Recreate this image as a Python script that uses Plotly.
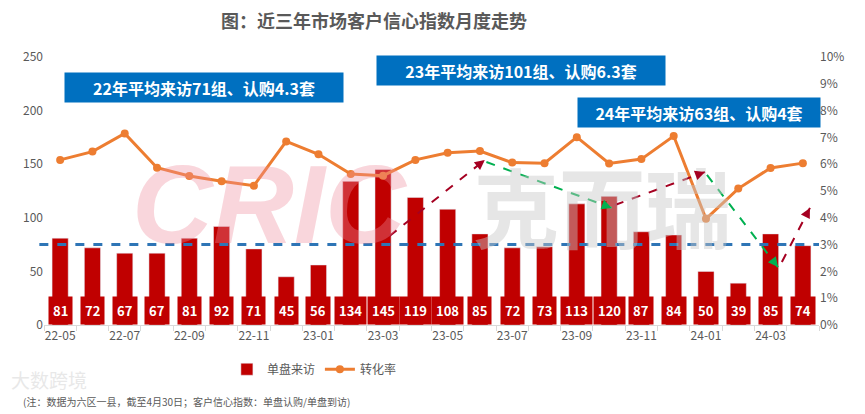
import plotly.graph_objects as go

# 月度数据
months = ["22-05", "22-06", "22-07", "22-08", "22-09", "22-10", "22-11", "22-12",
          "23-01", "23-02", "23-03", "23-04", "23-05", "23-06", "23-07", "23-08",
          "23-09", "23-10", "23-11", "23-12", "24-01", "24-02", "24-03", "24-04"]
visits = [81, 72, 67, 67, 81, 92, 71, 45, 56, 134, 145, 119,
          108, 85, 72, 73, 113, 120, 87, 84, 50, 39, 85, 74]
rate = [6.16, 6.47, 7.15, 5.87, 5.56, 5.36, 5.20, 6.85, 6.37, 5.63, 5.57, 6.16,
        6.43, 6.49, 6.06, 6.04, 7.01, 6.03, 6.19, 7.05, 3.96, 5.09, 5.86, 6.04]
tick_text = [m if i % 2 == 0 else "" for i, m in enumerate(months)]

ref_rate = 3  # 参考线（%）

# 趋势箭头: (起点x, 起点y%, 终点x, 终点y%, 颜色)
arrows = [
    (10.2, 3.32, 13.15, 6.16, "#a50021"),
    (13.2, 6.08, 17.08, 4.37, "#00b050"),
    (17.18, 4.48, 19.97, 5.71, "#a50021"),
    (20.03, 5.60, 22.23, 2.16, "#00b050"),
    (22.35, 2.35, 23.22, 4.37, "#a50021"),
]

notes = [
    ("22年平均来访71组、认购4.3套", 0.206, 0.886, 270),
    ("23年平均来访101组、认购6.3套", 0.615, 0.948, 280),
    ("24年平均来访63组、认购4套", 0.845, 0.792, 234),
]

FONT = "Noto Sans CJK SC"
GREY = "#595959"

fig = go.Figure()
fig.add_trace(go.Bar(x=months, y=visits, name="单盘来访", marker_color="#c00000",
                     width=0.5))
fig.add_trace(go.Scatter(x=months, y=rate, name="转化率", yaxis="y2",
                         mode="lines+markers",
                         line=dict(color="#ed7d31", width=3),
                         marker=dict(size=8, color="#ed7d31")))

annotations = []
# 水印
annotations.append(dict(x=0.292, y=0.448, xref="paper", yref="paper", xanchor="center",
                        yanchor="middle", text="<b><i>CRIC</i></b>", showarrow=False,
                        font=dict(family="Liberation Sans", size=112, color="#f08c9c"),
                        opacity=0.35))
annotations.append(dict(x=0.72, y=0.448, xref="paper", yref="paper", xanchor="center",
                        yanchor="middle", text="<b>克而瑞</b>", showarrow=False,
                        font=dict(family=FONT, size=86, color="#c8c8c8"), opacity=0.45))

# 柱底数值标签
for m, v in zip(months, visits):
    annotations.append(dict(x=m, y=0, yanchor="bottom", text="<b>%d</b>" % v, showarrow=False,
                            font=dict(family=FONT, size=13, color="white"),
                            bgcolor="#c00000", borderpad=4, height=19))

# 箭头
shapes = []
for x0, y0, x1, y1, c in arrows:
    shapes.append(dict(type="line", xref="x", yref="y2", x0=x0, y0=y0, x1=x1, y1=y1,
                       line=dict(color=c, width=2, dash="dash")))
    annotations.append(dict(x=x1, y=y1, xref="x", yref="y2", axref="x", ayref="y2",
                            ax=x1 - (x1 - x0) * 0.08, ay=y1 - (y1 - y0) * 0.08,
                            text="", showarrow=True, arrowhead=2, arrowsize=1,
                            arrowwidth=2, arrowcolor=c))

shapes.append(dict(type="line", xref="paper", yref="y2", x0=-0.006, x1=1, y0=ref_rate, y1=ref_rate,
                   line=dict(color="#2e75b6", width=3, dash="dash")))

# 说明框
for t, x, y, w in notes:
    annotations.append(dict(x=x, y=y, xref="paper", yref="paper", xanchor="center",
                            yanchor="middle", text="<b>%s</b>" % t, showarrow=False,
                            font=dict(family=FONT, size=16, color="white"),
                            bgcolor="#0070c0", width=w, height=21, borderpad=4))

annotations.append(dict(x=-0.03, y=-0.285, xref="paper", yref="paper", xanchor="left",
                        yanchor="middle",
                        text="(注：数据为六区一县，截至4月30日；客户信心指数：单盘认购/单盘到访)",
                        showarrow=False, font=dict(family=FONT, size=10, color=GREY)))
annotations.append(dict(x=-0.045, y=-0.205, xref="paper", yref="paper", xanchor="left",
                        yanchor="middle", text="大数跨境", showarrow=False, opacity=0.25,
                        font=dict(family=FONT, size=19, color="#a6a6a6")))

fig.update_layout(
    width=865, height=414,
    margin=dict(l=36, r=54, t=49, b=97),
    paper_bgcolor="white", plot_bgcolor="white",
    font=dict(family=FONT, color=GREY, size=12),
    title=dict(text="<b>图：近三年市场客户信心指数月度走势</b>", x=0.423, xanchor="center",
               y=0.966, yanchor="middle", font=dict(size=18, color=GREY)),
    bargap=0.5,
    showlegend=True,
    legend=dict(orientation="h", x=0.236, y=-0.165, xanchor="left", yanchor="middle",
                entrywidth=48, font=dict(size=12, color=GREY)),
    xaxis=dict(type="category", tickvals=months, ticktext=tick_text, tickson="boundaries",
               ticks="outside", ticklen=5, tickcolor="#d9d9d9", showline=True,
               linecolor="#d9d9d9", linewidth=1, showgrid=False, tickangle=0,
               range=[-0.5, 23.5]),
    yaxis=dict(range=[0, 250], dtick=50, showgrid=False, zeroline=False),
    yaxis2=dict(range=[0, 10], dtick=1, ticksuffix="%", overlaying="y", side="right",
                showgrid=False, zeroline=False),
    annotations=annotations,
    shapes=shapes,
)

fig.write_html("out.html")
